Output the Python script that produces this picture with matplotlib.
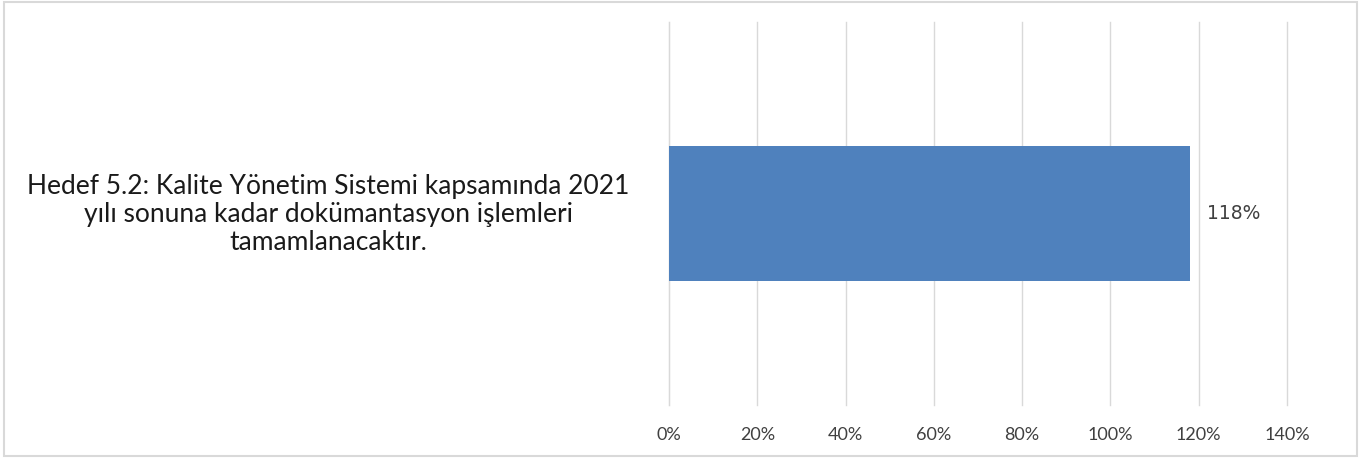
import matplotlib.pyplot as plt
from matplotlib.patches import Rectangle

categories = ["Hedef 5.2: Kalite Yönetim Sistemi kapsamında 2021\nyılı sonuna kadar dokümantasyon işlemleri\ntamamlanacaktır."]
values = [1.18]
xticks = [0, 0.2, 0.4, 0.6, 0.8, 1.0, 1.2, 1.4]

fig = plt.figure(figsize=(13.64, 4.58), dpi=100)
ax = fig.add_axes([0.4905, 0.1157, 0.453, 0.8363])

ax.barh([0], values, height=0.355, color="#4f81bd", zorder=3)
ax.set_ylim(-0.5, 0.5)
ax.set_xlim(0, 1.4)
ax.set_xticks(xticks)
ax.set_xticklabels([f"{int(round(t * 100))}%" for t in xticks], fontsize=13,
                   color="#404040", family="Lato")
ax.set_yticks([])
ax.tick_params(axis="x", length=0, pad=16)
ax.grid(axis="x", color="#d9d9d9", linewidth=1, zorder=0)
for line in ax.get_xgridlines():
    line.set_clip_on(False)
for s in ["top", "right", "bottom"]:
    ax.spines[s].set_visible(False)
ax.spines["left"].set_color("#d9d9d9")

for i, v in enumerate(values):
    ax.text(v + 0.04, i, f"{int(round(v * 100))}%", va="center", ha="left",
            fontsize=13.5, color="#404040", family="DejaVu Sans")

fig.text(0.2405, 0.531, categories[0], ha="center", va="center", fontsize=19,
         color="#1a1a1a", family="Lato", linespacing=1.15)

fig.patches.append(Rectangle((0.003, 0.004), 0.992, 0.992, transform=fig.transFigure,
                             fill=False, edgecolor="#d9d9d9", linewidth=1.5))

fig.savefig("out.png", dpi=100)
